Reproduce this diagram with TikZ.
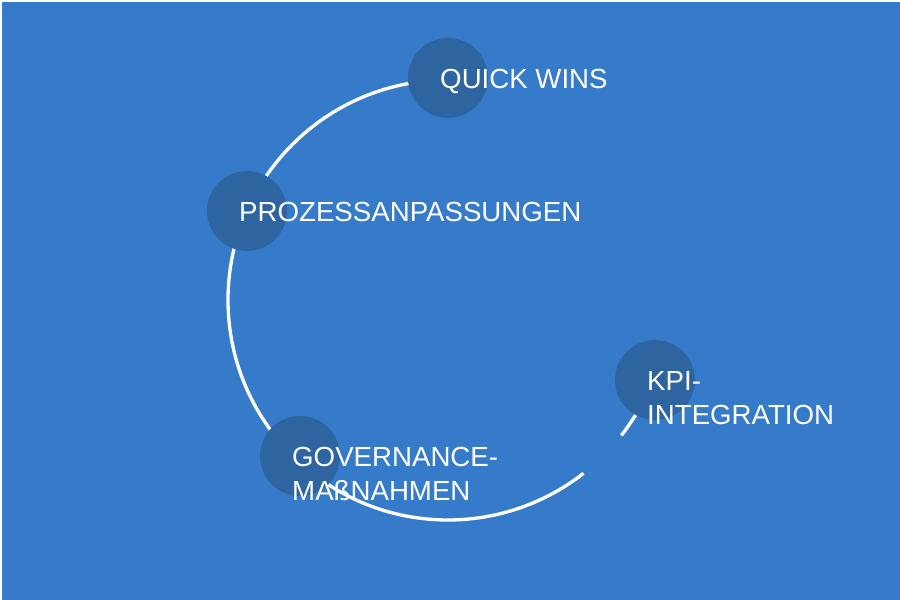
\documentclass[tikz,border=0pt]{standalone}
\usepackage{fontspec}
\setmainfont{Liberation Sans}
\usepackage{tikz}
\usetikzlibrary{positioning}
\definecolor{slideblue}{RGB}{54,123,201}
\definecolor{stepblue}{RGB}{46,101,160}

\begin{document}
\begin{tikzpicture}[x=0.3mm, y=0.3mm,
    stepdot/.style={circle, fill=stepblue, minimum size=24mm, inner sep=0pt},
    steplabel/.style={anchor=north west, inner sep=0pt, text=white, align=left,
        font=\fontsize{23.6}{29}\selectfont, xshift=-2.4mm, yshift=2.7mm}]
    % Background
    \fill[white] (0, 0) rectangle (900, 600);
    \fill[slideblue] (2, 0) rectangle (900, 598);
    
    % Ring
    \coordinate (centre) at (448, 300);
    \draw[white, line width=1mm] (centre) ++(90:220) arc[start angle=90, end angle=308, radius=220];
    \draw[white, line width=1mm] (centre) ++(322:220) arc[start angle=322, end angle=335, radius=220];
    
    % Step dots
    \node[stepdot] (quick) at (448, 522) {};
    \node[stepdot] (prozess) at (247, 389) {};
    \node[stepdot] (governance) at (300, 144) {};
    \node[stepdot] (kpi) at (655, 220) {};
    
    % Labels
    \node[steplabel] (quicklabel) at (quick.center) {QUICK WINS};
    \node[steplabel] (prozesslabel) at (prozess.center) {PROZESSANPASSUNGEN};
    \node[steplabel] (governancelabel) at (governance.center) {GOVERNANCE-\\MAßNAHMEN};
    \node[steplabel] (kpilabel) at (kpi.center) {KPI-\\INTEGRATION};
\end{tikzpicture}
\end{document}
